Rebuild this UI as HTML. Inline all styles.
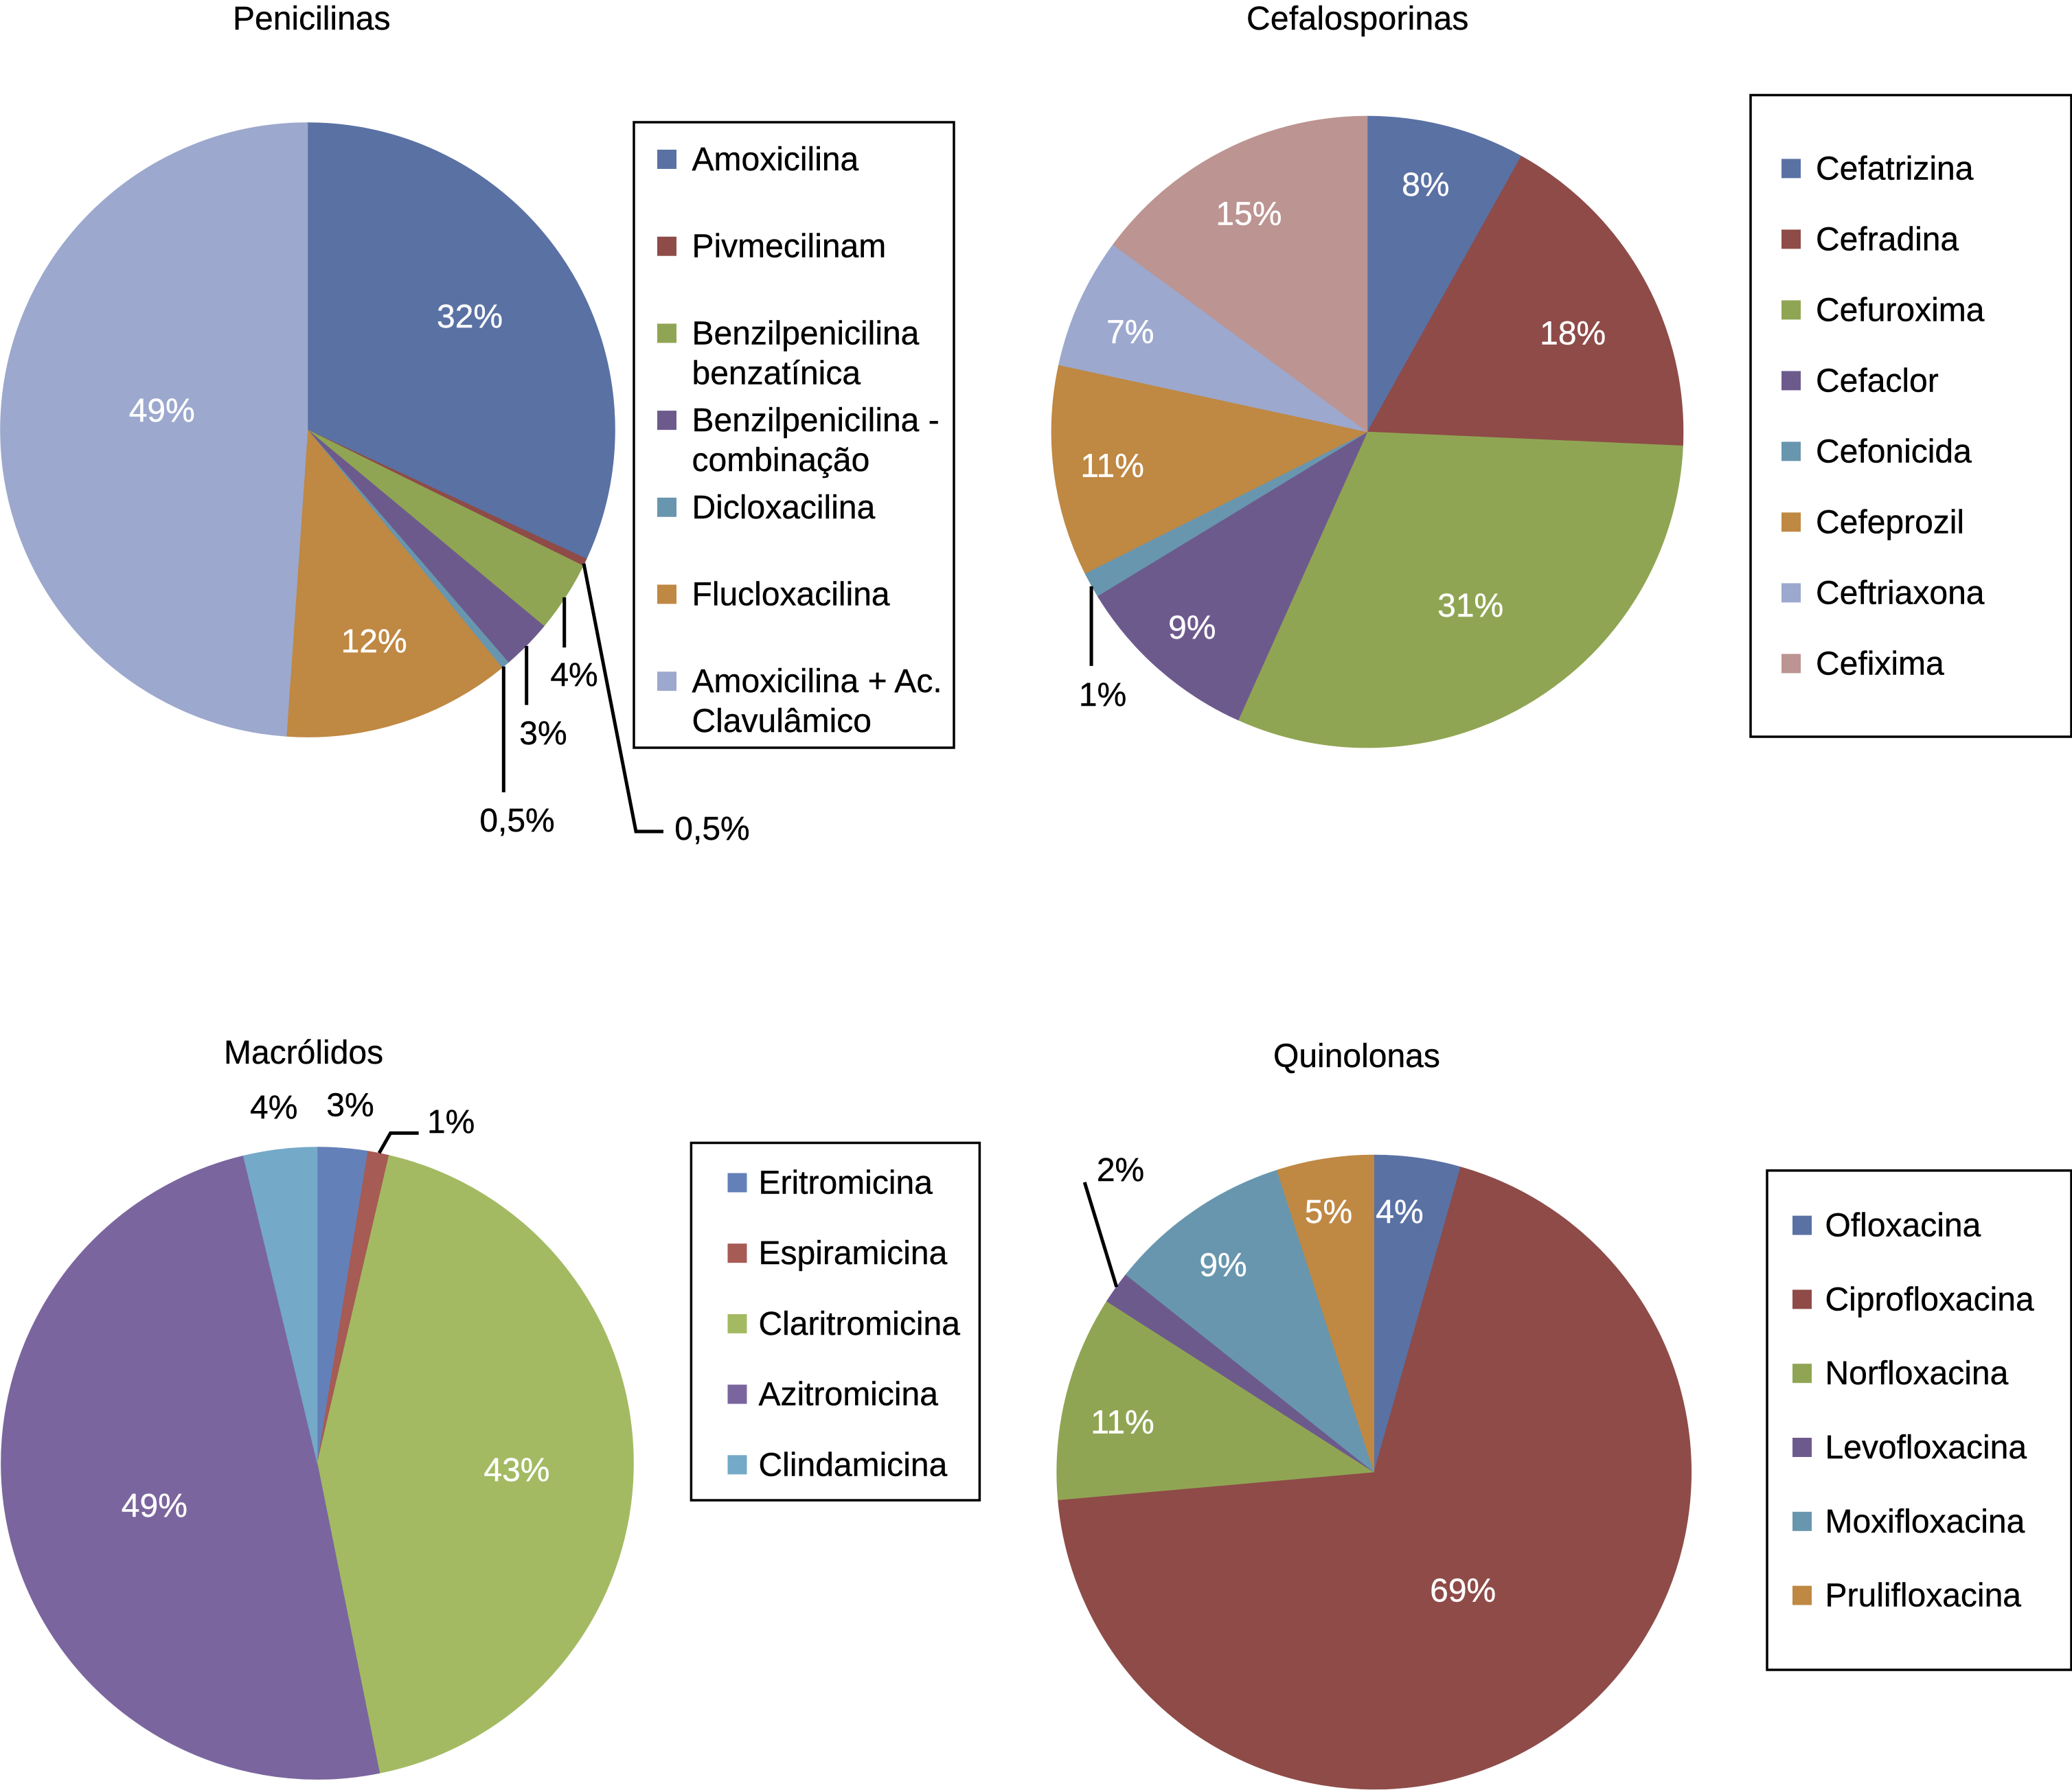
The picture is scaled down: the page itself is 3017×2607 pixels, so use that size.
<!DOCTYPE html>
<html lang="pt">
<head>
<meta charset="utf-8">
<title>Antibióticos</title>
<style>
html,body{margin:0;padding:0;background:#fff;}
svg{display:block;}
text{font-family:"Liberation Sans",sans-serif;font-size:48px;}
</style>
</head>
<body>
<svg id="chart" xmlns="http://www.w3.org/2000/svg" width="3017" height="2607" viewBox="0 0 3017 2607">
<rect x="0" y="0" width="3017" height="2607" fill="#ffffff"/>
<text x="339" y="43" fill="#000" stroke="#000" stroke-width="0.4">Penicilinas</text>
<text x="1815" y="43" fill="#000" stroke="#000" stroke-width="0.4" letter-spacing="0.25">Cefalosporinas</text>
<text x="326" y="1549" fill="#000" stroke="#000" stroke-width="0.4">Macrólidos</text>
<text x="1854" y="1554" fill="#000" stroke="#000" stroke-width="0.4">Quinolonas</text>
</svg>
<script>
const penicilinasCategories = ["Amoxicilina","Pivmecilinam","Benzilpenicilina\nbenzatínica","Benzilpenicilina -\ncombinação","Dicloxacilina","Flucloxacilina","Amoxicilina + Ac.\nClavulâmico"];
const penicilinasValues = [31.9,0.4,3.73,2.64,0.43,12,48.9];
const penicilinasLabels = ["32%","0,5%","4%","3%","0,5%","12%","49%"];

const cefalosporinasCategories = ["Cefatrizina","Cefradina","Cefuroxima","Cefaclor","Cefonicida","Cefeprozil","Ceftriaxona","Cefixima"];
const cefalosporinasValues = [8.1,17.6,31,9.6,1.3,10.8,6.7,14.9];
const cefalosporinasLabels = ["8%","18%","31%","9%","1%","11%","7%","15%"];

const macrolidosCategories = ["Eritromicina","Espiramicina","Claritromicina","Azitromicina","Clindamicina"];
const macrolidosValues = [2.56,1.08,43.2,49.4,3.76];
const macrolidosLabels = ["3%","1%","43%","49%","4%"];

const quinolonasCategories = ["Ofloxacina","Ciprofloxacina","Norfloxacina","Levofloxacina","Moxifloxacina","Prulifloxacina"];
const quinolonasValues = [4.4,69.2,10.45,1.65,9.35,4.95];
const quinolonasLabels = ["4%","69%","11%","2%","9%","5%"];

const paletteA = ["#5a71a4","#8e4b48","#90a553","#6d5a8d","#6896ae","#bf8843","#9ca8cd","#bc9492"];
const paletteB = ["#6480b8","#a65b54","#a3ba62","#7b659e","#74a9c8"];

const svgNS = "http://www.w3.org/2000/svg";
const root = document.getElementById("chart");

function make(tag, attrs, parent) {
  const el = document.createElementNS(svgNS, tag);
  for (const k in attrs) el.setAttribute(k, attrs[k]);
  parent.appendChild(el);
  return el;
}

/* value -> angle (radians, clockwise from 12 o'clock) */
function angleScale(values) {
  const total = values.reduce(function (a, b) { return a + b; }, 0);
  return function (v) { return v / total * 2 * Math.PI; };
}
function polar(p, a) {
  return [p.cx + p.r * Math.sin(a), p.cy - p.r * Math.cos(a)];
}

function drawPie(p) {
  const group = make("g", {}, root);
  
  
  const toAngle = angleScale(p.values);
  let cum = 0;

  p.values.forEach(function (v, i) {
    const a0 = toAngle(cum);
    const a1 = toAngle(cum + v);
    cum += v;
    const s = polar(p, a0), e = polar(p, a1);
    const large = (a1 - a0) > Math.PI ? 1 : 0;
    const slice = make("path", {
      d: "M" + p.cx + " " + p.cy + "L" + s[0] + " " + s[1] + "A" + p.r + " " + p.r + " 0 " + large + " 1 " + e[0] + " " + e[1] + "Z",
      fill: p.colors[i], stroke: p.colors[i], "stroke-width": 0.6
    }, group);
    
    
  });

  cum = 0;
  p.values.forEach(function (v, i) {
    const mid = toAngle(cum + v / 2);
    cum += v;
    const A = polar(p, mid);
    const off = p.labelOffsets[i];
    const leaderPts = p.leaders[i];
    if (leaderPts) {
      const pts = leaderPts.map(function (q) { return (A[0] + q[0]) + "," + (A[1] + q[1]); }).join(" ");
      const line = make("polyline", { points: pts, fill: "none", stroke: "#000", "stroke-width": 5 }, group);
      
      
    }
    const col = p.dark[i] ? "#000000" : "#ffffff";
    const t = make("text", {
      x: A[0] + off[0], y: A[1] + off[1], "text-anchor": "middle",
      fill: col, stroke: col, "stroke-width": 0.4
    }, group);
    t.textContent = p.labels[i];
    
    
  });

  const legend = make("g", {}, root);
  
  
  const box = make("rect", {
    x: p.box[0], y: p.box[1], width: p.box[2] - p.box[0], height: p.box[3] - p.box[1],
    fill: "#fff", stroke: "#000", "stroke-width": 3.5
  }, legend);
  
  
  p.categories.forEach(function (c, i) {
    const yc = p.legendY + i * p.legendStep;
    const sw = make("rect", { x: p.swatchX, y: yc - 14, width: 28, height: 28, fill: p.colors[i] }, legend);
    
    
    const lines = c.split("\n");
    lines.forEach(function (ln, j) {
      const tx = make("text", { x: p.textX, y: yc + 16 + j * 58, fill: "#000", stroke: "#000", "stroke-width": 0.4 }, legend);
      tx.textContent = ln;
      
      
    });
  });
}

drawPie({
  name: "penicilinas", cx: 448, cy: 626, r: 447.5,
  values: penicilinasValues, labels: penicilinasLabels, categories: penicilinasCategories, colors: paletteA,
  labelOffsets: [[-141,92],[185.3,403.9],[12.7,129.3],[23.6,144.6],[17.3,242.2],[-39,-102.5],[235,3.4]],
  dark: [0,1,1,1,1,0,0],
  leaders: [null,[[-1.7,1.6],[74.3,391.9],[114.3,391.9]],[[-1.6,0.3],[-1.6,73.3]],[[-0.7,1.3],[-0.7,87.3]],[[-2.4,1.9],[-2.4,185.2]],null,null],
  box: [923,178,1389,1089], swatchX: 957, textX: 1007.5, legendY: 232, legendStep: 126.7
});
drawPie({
  name: "cefalosporinas", cx: 1991, cy: 629, r: 460,
  values: cefalosporinasValues, labels: cefalosporinasLabels, categories: cefalosporinasCategories, colors: paletteA,
  labelOffsets: [[-31,101],[-102.5,96.4],[-91.4,-122.7],[49,-44],[17,176],[85,8],[74,60],[35,109]],
  dark: [0,0,0,0,1,0,0,0],
  leaders: [null,null,null,null,[[0.5,2],[0.5,118]],null,null,null],
  box: [2549,138.5,3016,1073], swatchX: 2594, textX: 2644, legendY: 245.4, legendStep: 103
});
drawPie({
  name: "macrolidos", cx: 462, cy: 2131, r: 460.5,
  values: macrolidosValues, labels: macrolidosLabels, categories: macrolidosCategories, colors: paletteB,
  labelOffsets: [[11,-46.5],[105.5,-29],[-170,19],[212.5,-21.4],[-9,-44.7]],
  dark: [1,1,0,0,1],
  leaders: [null,[[1,0],[17.5,-29],[58.5,-29]],null,null,null],
  box: [1006.4,1664.5,1426.4,2185], swatchX: 1059.5, textX: 1104.5, legendY: 1722.5, legendStep: 102.7
});
drawPie({
  name: "quinolonas", cx: 2000.7, cy: 2144, r: 462,
  values: quinolonasValues, labels: quinolonasLabels, categories: quinolonasCategories, colors: paletteA,
  labelOffsets: [[-26.4,94.6],[-165,-167.4],[82.5,53.6],[6.7,-155.3],[43,94.8],[5.3,93.4]],
  dark: [0,0,0,1,0,0],
  leaders: [null,null,null,[[1,-1],[-45.6,-153.5]],null,null],
  box: [2573,1704.8,3016,2432], swatchX: 2610, textX: 2657.5, legendY: 1784.6, legendStep: 107.8
});
</script>
</body>
</html>
